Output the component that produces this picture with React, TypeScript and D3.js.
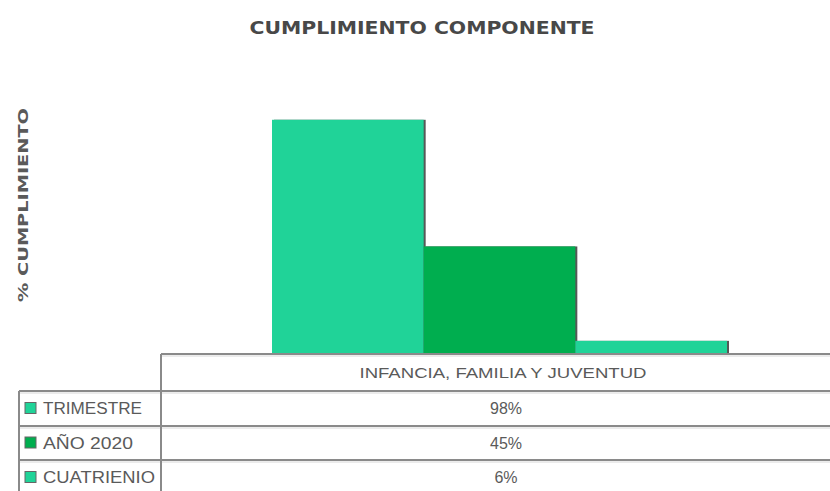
import React from "react";
import * as d3 from "d3";

const title = "CUMPLIMIENTO COMPONENTE";
const yLabel = "% CUMPLIMIENTO";
const categories = ["INFANCIA, FAMILIA Y JUVENTUD"];
const seriesNames = ["TRIMESTRE", "AÑO 2020", "CUATRIENIO"];
const seriesValues = [0.98, 0.45, 0.055];
const seriesLabels = ["98%", "45%", "6%"];
const seriesColors = ["#20D398", "#00AE4F", "#20D398"];

const W = 830;
const H = 491;

export default function App() {
  const baseline = 354;
  const y = d3.scaleLinear().domain([0, 1]).range([baseline, 115]);
  const x = d3.scaleBand<string>().domain(seriesNames).range([272, 727]).padding(0);

  const tableLeft = 161;
  const legendLeft = 19;
  const tableRight = 845;
  const rowLines = [354, 391, 426, 460, 495];
  const legendTextLen = [99, 90, 112];

  return (
    <svg width={W} height={H} style={{ position: "absolute", left: 0, top: 0, background: "#fff" }}>
      <rect x={0} y={0} width={W} height={H} fill="#fff" />
      <text
        x={422}
        y={34}
        textAnchor="middle"
        fontFamily="DejaVu Sans"
        fontWeight="bold"
        fontSize={17}
        fill="#484848"
        textLength={345}
        lengthAdjust="spacingAndGlyphs"
      >
        {title}
      </text>
      <text
        transform={`translate(28,205) rotate(-90)`}
        textAnchor="middle"
        fontFamily="DejaVu Sans"
        fontWeight="bold"
        fontSize={14}
        fill="#5a5a5a"
        textLength={194}
        lengthAdjust="spacingAndGlyphs"
      >
        {yLabel}
      </text>

      {/* bar shadows (right edge) */}
      {seriesNames.map((s, i) => (
        <rect
          key={"sh" + s}
          x={(x(s) as number) + 2}
          y={y(seriesValues[i])}
          width={x.bandwidth()}
          height={baseline - y(seriesValues[i])}
          fill="#3a3a3a"
          opacity={0.85}
        />
      ))}
      {seriesNames.map((s, i) => (
        <rect
          key={"b" + s}
          x={x(s) as number}
          y={y(seriesValues[i])}
          width={x.bandwidth()}
          height={baseline - y(seriesValues[i])}
          fill={seriesColors[i]}
        />
      ))}

      {/* table lines */}
      {rowLines.map((ly, i) => (
        <line
          key={"h" + i}
          x1={i === 0 ? tableLeft : legendLeft}
          x2={tableRight}
          y1={ly}
          y2={ly}
          stroke="#8a8a8a"
          strokeWidth={2}
        />
      ))}
      {rowLines.map((ly, i) => (
        <line
          key={"hl" + i}
          x1={i === 0 ? tableLeft : legendLeft}
          x2={tableRight}
          y1={ly + 2}
          y2={ly + 2}
          stroke="#d8d8d8"
          strokeWidth={1}
        />
      ))}
      <line x1={tableLeft} x2={tableLeft} y1={rowLines[0]} y2={H + 5} stroke="#8a8a8a" strokeWidth={2} />
      <line x1={legendLeft} x2={legendLeft} y1={rowLines[1]} y2={H + 5} stroke="#8a8a8a" strokeWidth={2} />

      <text
        x={503}
        y={378}
        textAnchor="middle"
        fontFamily="Liberation Sans"
        fontSize={15}
        fill="#5a5a5a"
        textLength={287}
        lengthAdjust="spacingAndGlyphs"
      >
        {categories[0]}
      </text>

      {seriesNames.map((s, i) => {
        const cy = (rowLines[i + 1] + rowLines[i + 2]) / 2;
        return (
          <g key={"r" + s}>
            <rect x={25} y={cy - 6} width={11} height={11} fill={seriesColors[i]} stroke="#666" strokeWidth={1} />
            <text
              x={43}
              y={cy + 5.5}
              fontFamily="Liberation Sans"
              fontSize={16}
              fill="#5a5a5a"
              textLength={legendTextLen[i]}
              lengthAdjust="spacingAndGlyphs"
            >
              {s}
            </text>
            <text
              x={506}
              y={cy + 5.5}
              textAnchor="middle"
              fontFamily="Liberation Sans"
              fontSize={16}
              fill="#5a5a5a"
            >
              {seriesLabels[i]}
            </text>
          </g>
        );
      })}
    </svg>
  );
}
